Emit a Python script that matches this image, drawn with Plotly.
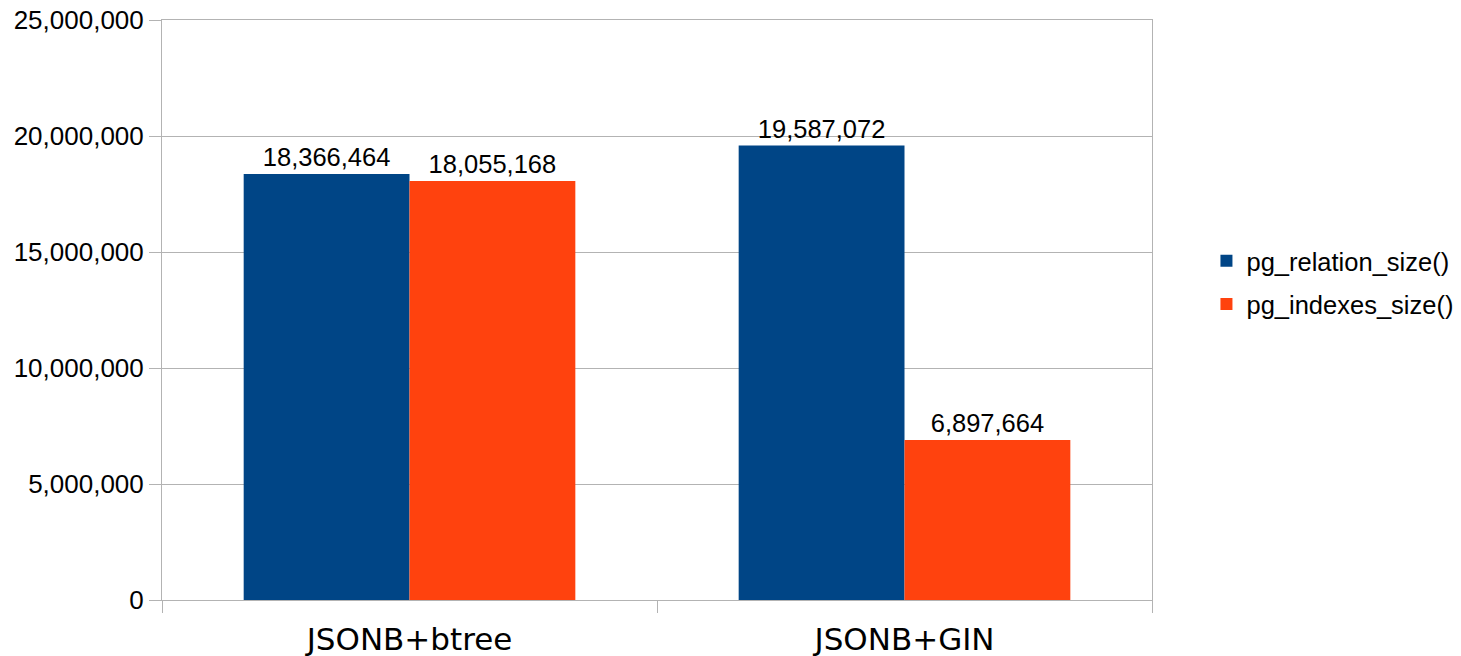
import plotly.graph_objects as go

categories = ["JSONB+btree", "JSONB+GIN"]
relation_size = [18366464, 19587072]
indexes_size = [18055168, 6897664]
y_ticks = [0, 5000000, 10000000, 15000000, 20000000, 25000000]

BLUE = "#004586"
ORANGE = "#FF420E"
GRID = "#b3b3b3"
SANS = "Liberation Sans, Arial, sans-serif"
LABEL_FONT = dict(family=SANS, size=25.5, color="#000000")

fig = go.Figure()
fig.add_trace(go.Bar(
    x=categories, y=relation_size, name="pg_relation_size()",
    marker=dict(color=BLUE, line=dict(width=0)),
    text=[f"{v:,}" for v in relation_size], textposition="outside",
    textfont=LABEL_FONT, cliponaxis=False, legendgroup="a",
))
fig.add_trace(go.Bar(
    x=categories, y=indexes_size, name="pg_indexes_size()",
    marker=dict(color=ORANGE, line=dict(width=0)),
    text=[f"{v:,}" for v in indexes_size], textposition="outside",
    textfont=LABEL_FONT, cliponaxis=False, legendgroup="b",
))

fig.update_layout(
    width=1461, height=656,
    margin=dict(l=162, r=309, t=20, b=56, autoexpand=False),
    paper_bgcolor="white", plot_bgcolor="white",
    barmode="group", bargap=0.33, bargroupgap=0,
    uniformtext=dict(minsize=25, mode="show"),
    font=LABEL_FONT,
    legend=dict(
        x=1.055, y=0.547, xanchor="left", yanchor="middle",
        font=dict(family=SANS, size=25.5, color="#000000"),
        tracegroupgap=7, itemsizing="constant",
    ),
    xaxis=dict(
        type="category", tickson="boundaries", automargin=False,
        ticks="outside", ticklen=12, tickcolor=GRID, tickwidth=1,
        showgrid=False, zeroline=False,
        showline=True, linecolor=GRID, linewidth=1, mirror=True,
        tickfont=dict(family="DejaVu Sans, sans-serif", size=31, color="#000000"),
        ticklabelstandoff=12,
    ),
    yaxis=dict(
        range=[0, 25000000], tickvals=y_ticks, automargin=False,
        ticktext=[f"{v:,}" for v in y_ticks],
        showgrid=True, gridcolor=GRID, gridwidth=1,
        showline=True, linecolor=GRID, linewidth=1, mirror=True,
        ticks="outside", ticklen=12, tickcolor=GRID,
        zeroline=False,
        tickfont=dict(family=SANS, size=26, color="#000000"),
    ),
    hovermode=False,
)

fig.write_html("out.html")
